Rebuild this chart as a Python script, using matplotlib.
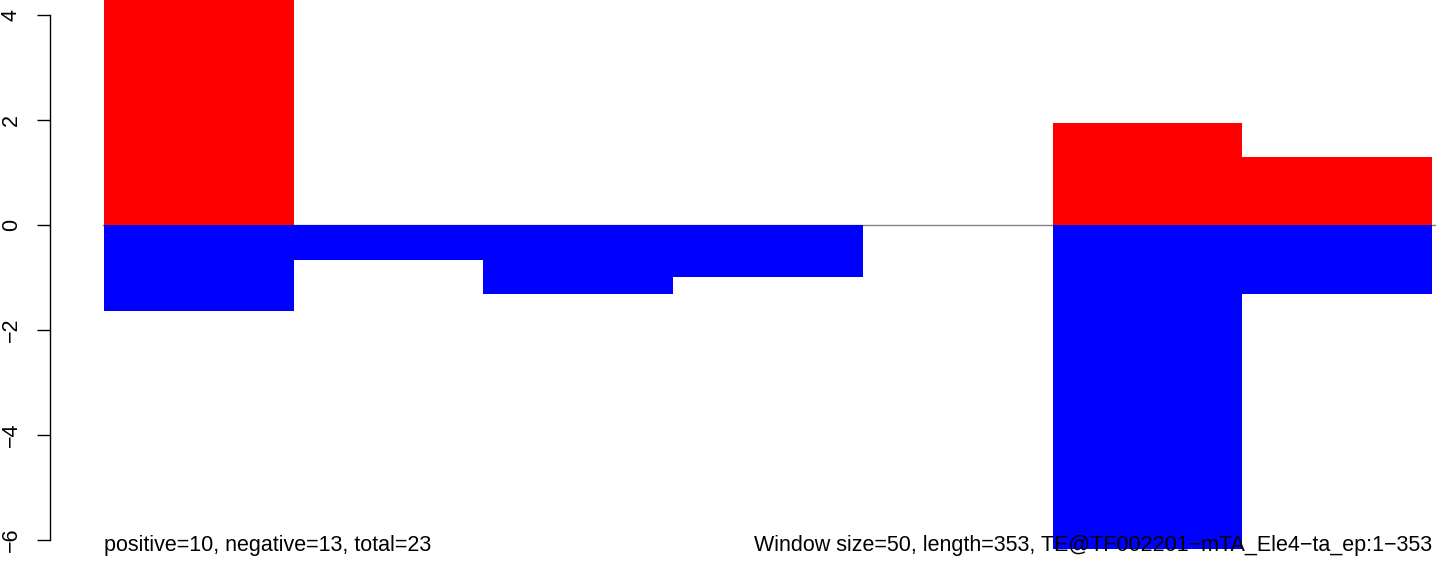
import matplotlib
matplotlib.use("Agg")
import matplotlib.pyplot as plt
import numpy as np

plt.rcParams['font.family'] = ['Liberation Sans', 'DejaVu Sans']

# Data (per 50-bp window)
windows = [0, 1, 2, 3, 4, 5, 6]
positive_vals = [4.4, 0.0, 0.0, 0.0, 0.0, 1.94, 1.30]
negative_vals = [-1.64, -0.667, -1.31, -0.99, 0.0, -6.17, -1.31]
yticks = [-6, -4, -2, 0, 2, 4]
left_text = "positive=10, negative=13, total=23"
right_text = "Window size=50, length=353, TE@TF002201\u2212mTA_Ele4\u2212ta_ep:1\u2212353"

W, H = 1436, 571
fig = plt.figure(figsize=(W / 100, H / 100), dpi=100)
ax = fig.add_axes([0, 0, 1, 1])

px_per_win = 189.7
x0_px = 104
ax.set_xlim(-x0_px / px_per_win, (W - x0_px) / px_per_win)
y0_px = 225
px_per_unit = 52.5
ax.set_ylim(-(H - y0_px) / px_per_unit, y0_px / px_per_unit)

ax.plot([-0.005, 7.05], [0, 0], color='#808080', lw=1.0, zorder=1)
ax.bar(windows, positive_vals, width=1.0, align='edge', color='#FF0000', lw=0, zorder=2)
ax.bar(windows, negative_vals, width=1.0, align='edge', color='#0000FF', lw=0, zorder=2)

for s in ['top', 'right', 'bottom']:
    ax.spines[s].set_visible(False)
ax.spines['left'].set_position(('data', (50 - x0_px) / px_per_win))
ax.spines['left'].set_bounds(-6, 4)
ax.spines['left'].set_linewidth(1.0)
ax.set_xticks([])
ax.set_yticks(yticks)
ax.set_yticklabels([f"{v}".replace('-', '\u2212') for v in yticks], rotation=90, va='center',
                   fontsize=15.5)
ax.tick_params(axis='y', direction='out', length=9.4, width=1.0, pad=11)
ax.patch.set_alpha(0)

text_y = (y0_px - 551) / px_per_unit
ax.text(0, text_y, left_text, ha='left', va='baseline', fontsize=15.5, zorder=5)
ax.text(7.0, text_y, right_text, ha='right', va='baseline', fontsize=15.5, zorder=5)

fig.savefig("out.png", dpi=100)
